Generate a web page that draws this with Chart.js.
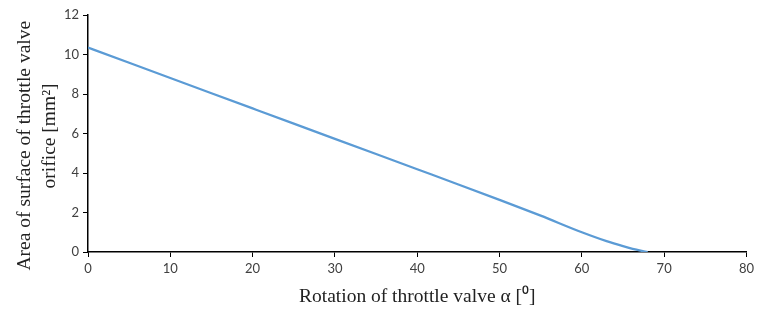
<!DOCTYPE html>
<html>
<head>
<meta charset="utf-8">
<script src="https://cdn.jsdelivr.net/npm/chart.js@4/dist/chart.umd.min.js"></script>
<style>
  html, body { margin: 0; padding: 0; background: #fff; }
  #wrap { width: 758px; height: 309px; }
</style>
</head>
<body>
<div id="wrap"><canvas id="c" width="758" height="309"></canvas></div>
<script>
// rotation angle [deg] and orifice area [mm^2]
var angles = [0, 5, 10, 15, 20, 25, 30, 35, 40, 45, 50, 55, 60, 63, 65, 67, 68];
var areas = [10.35, 9.58, 8.81, 8.04, 7.27, 6.5, 5.73, 4.96, 4.19, 3.42, 2.64, 1.84, 1.0, 0.55, 0.3, 0.08, 0];

var xTitle = "Rotation of throttle valve \u03b1 [\u2070]";
// trailing spaces nudge the rotated lines down a little, as in the original
var yTitle = ["Area of surface of throttle valve     ", "orifice [mm\u00b2] "];

var tickFont = { family: "Lato, 'Open Sans', sans-serif", size: 13 };
var titleFont = { family: "'Liberation Serif', 'Times New Roman', serif", size: 19.5, lineHeight: 1.25 };

new Chart(document.getElementById("c"), {
  type: "line",
  data: {
    datasets: [{
      data: angles.map(function (a, i) { return { x: a, y: areas[i] }; }),
      borderColor: "#5b9bd5",
      borderWidth: 2.25,
      pointRadius: 0,
      cubicInterpolationMode: "monotone",
      fill: false
    }]
  },
  options: {
    responsive: false,
    animation: false,
    layout: { padding: { left: 0, right: 10, top: 15, bottom: 0 } },
    plugins: { legend: { display: false }, tooltip: { enabled: false } },
    scales: {
      x: {
        type: "linear",
        min: 0, max: 80,
        ticks: { stepSize: 10, color: "#404040", font: tickFont, padding: 4, maxRotation: 0 },
        grid: { drawOnChartArea: false, tickLength: 5, color: "#000", lineWidth: 1 },
        border: { color: "#000", width: 1.5 },
        title: { display: true, text: xTitle, color: "#222", font: titleFont, padding: { top: 2, bottom: 0 } },
        afterFit: function (s) { s.height = 57; }
      },
      y: {
        min: 0, max: 12,
        ticks: { stepSize: 2, color: "#404040", font: tickFont, padding: 4 },
        grid: { drawOnChartArea: false, tickLength: 5, color: "#000", lineWidth: 1 },
        border: { color: "#000", width: 1.5 },
        title: { display: true, text: yTitle, color: "#222", font: titleFont, padding: { top: 13, bottom: 0 } },
        afterFit: function (s) { s.width = 88; }
      }
    }
  }
});
</script>
</body>
</html>
